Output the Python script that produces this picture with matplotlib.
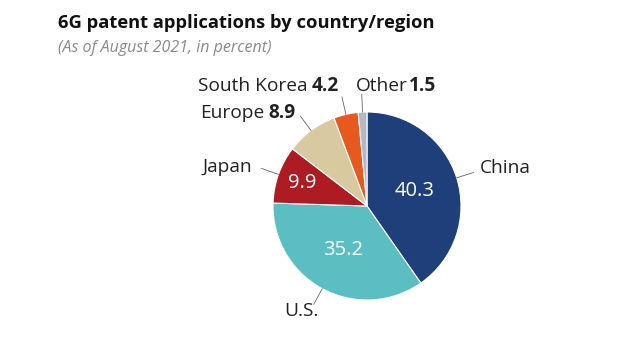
import numpy as np
import matplotlib.pyplot as plt

# 6G patent applications share, August 2021
regions = ["China", "U.S.", "Japan", "Europe", "South Korea", "Other"]
shares = [40.3, 35.2, 9.9, 8.9, 4.2, 1.5]
colors = ["#1e3f79", "#5bbec3", "#ae1b22", "#d9c9a1", "#e9581f", "#b6b8c1"]

W, H = 640, 344
fig = plt.figure(figsize=(W / 100, H / 100), dpi=100)
ax = fig.add_axes([0, 0, 1, 1])

plt.rcParams["font.family"] = ["Open Sans", "DejaVu Sans"]

cx, cy, R = 367, H - 206, 94
wedges, _ = ax.pie(shares, colors=colors, startangle=90, counterclock=False,
                   center=(cx, cy), radius=R,
                   wedgeprops=dict(edgecolor="white", linewidth=0.8))
ax.set_xlim(0, W)
ax.set_ylim(0, H)
ax.axis("off")


def py(y):
    # image-style y (from top) to axis y
    return H - y


def mid_angle(w):
    return np.deg2rad((w.theta1 + w.theta2) / 2)


# values printed inside the big slices
inside = {"China": 0.53, "U.S.": 0.53, "Japan": 0.73}
for w, name, val in zip(wedges, regions, shares):
    if name in inside:
        a = mid_angle(w)
        r = R * inside[name]
        ax.text(cx + r * np.cos(a), cy + r * np.sin(a), f"{val}",
                color="white", fontsize=14.5, ha="center", va="center")

# leader lines
for w in wedges:
    a = mid_angle(w)
    ax.plot([cx + R * np.cos(a), cx + R * 1.19 * np.cos(a)],
            [cy + R * np.sin(a), cy + R * 1.19 * np.sin(a)],
            color="#666666", lw=0.6)

# outer labels: left x, center y, show value
label_pos = {
    "China": (480, 168, False),
    "U.S.": (284, 311, False),
    "Japan": (203, 167, False),
    "Europe": (200, 113, True),
    "South Korea": (198, 86, True),
    "Other": (356, 86, True),
}
fig.canvas.draw()
renderer = fig.canvas.get_renderer()
for name, val in zip(regions, shares):
    x, y, show_val = label_pos[name]
    t = ax.text(x, py(y), name, fontsize=13.8, color="#222222",
                ha="left", va="center")
    if show_val:
        bb = t.get_window_extent(renderer).transformed(ax.transData.inverted())
        gap = 1 if name == "Other" else 4
        ax.text(bb.x1 + gap, py(y), f"{val}", fontsize=13.8, color="#222222",
                fontweight="bold", ha="left", va="center")

fig.text(58 / W, 1 - 23 / H, "6G patent applications by country/region",
         fontsize=13.2, fontweight="bold", color="#111111", va="center")
fig.text(58 / W, 1 - 48 / H, "(As of August 2021, in percent)",
         fontsize=11.5, style="italic", color="#8a8a8a", va="center")

fig.savefig("out.png", dpi=100, facecolor="white")
